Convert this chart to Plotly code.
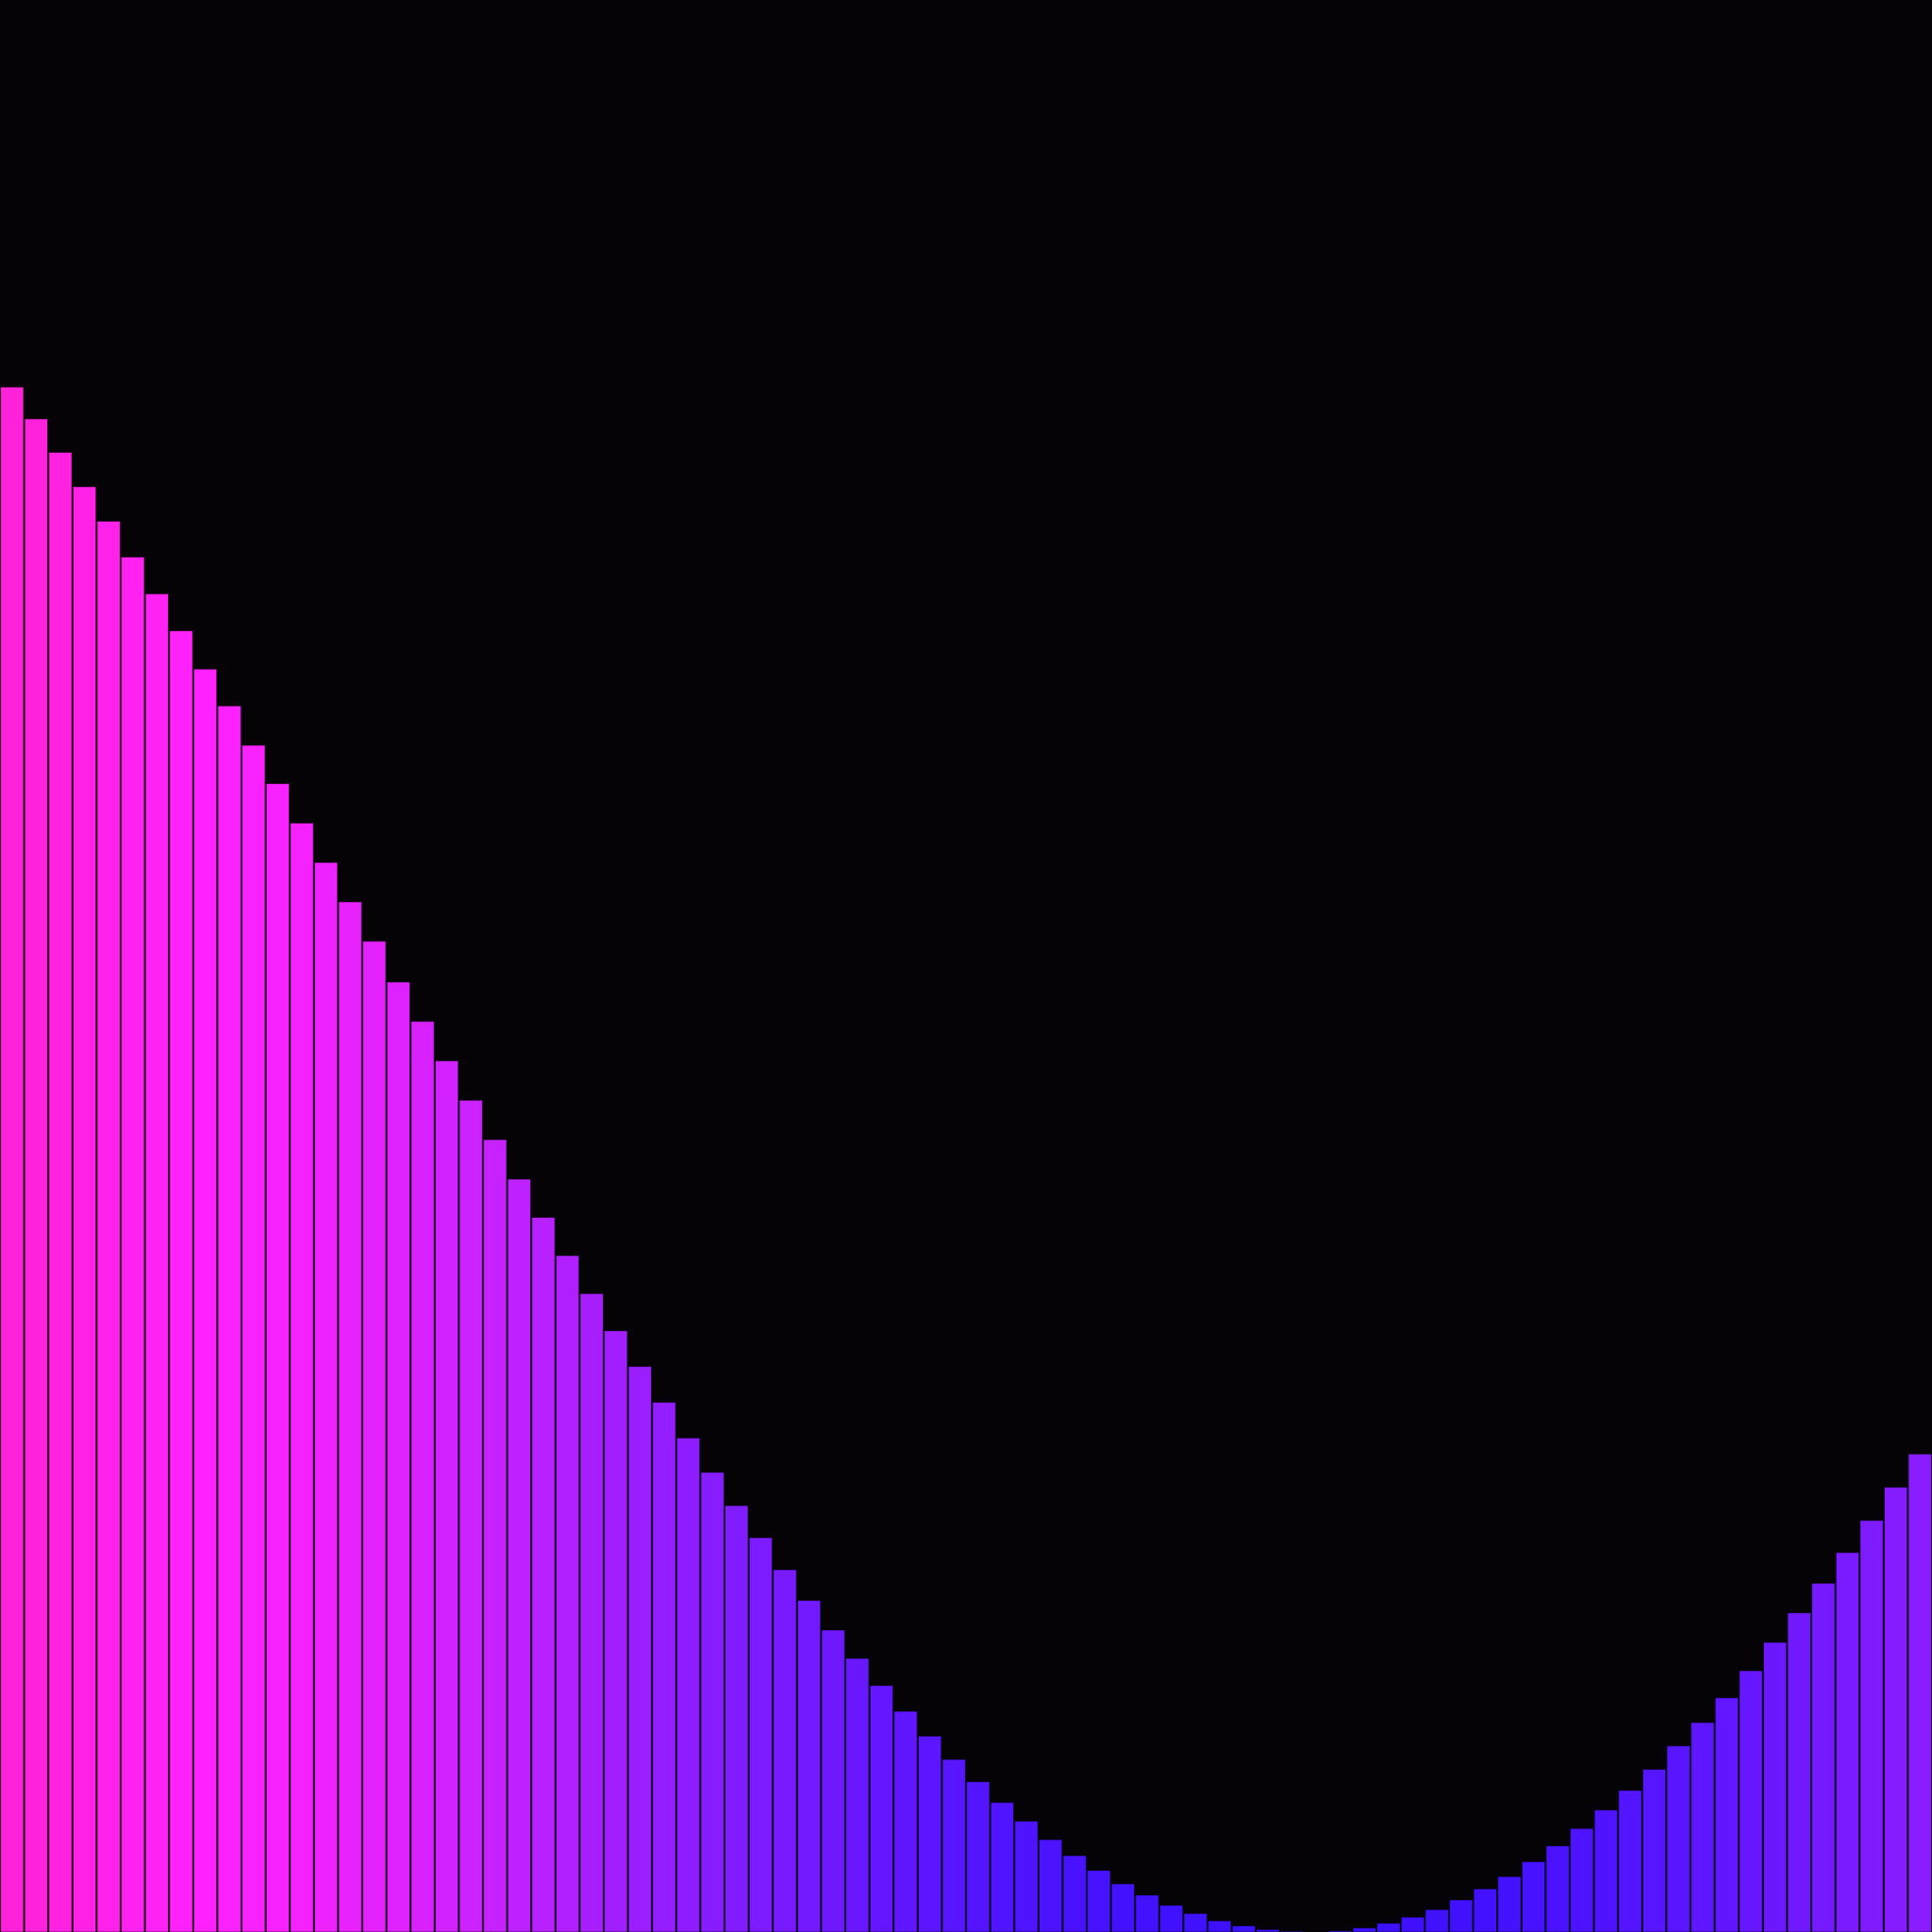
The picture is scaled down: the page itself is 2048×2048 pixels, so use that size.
import plotly.graph_objects as go

# Bar heights (percent of plot height), read left to right
values = [
    79.97, 78.32, 76.59, 74.81, 73.02, 71.17, 69.26, 67.35, 65.37, 63.46,
    61.42, 59.44, 57.40, 55.36, 53.32, 51.28, 49.17, 47.13, 45.09, 43.05,
    41.01, 38.97, 36.99, 35.01, 33.04, 31.12, 29.27, 27.42, 25.57, 23.79,
    22.07, 20.41, 18.75, 17.16, 15.63, 14.16, 12.76, 11.42, 10.14, 8.93,
    7.78, 6.70, 5.74, 4.78, 3.95, 3.19, 2.49, 1.91, 1.38, 0.96,
    0.58, 0.32, 0.13, 0.04, 0.0, 0.06, 0.21, 0.45, 0.77, 1.16,
    1.66, 2.23, 2.87, 3.64, 4.46, 5.36, 6.31, 7.33, 8.42, 9.63,
    10.84, 12.12, 13.52, 14.99, 16.52, 18.05, 19.64, 21.30, 23.02, 24.74,
]
positions = list(range(len(values)))

# colour follows bar height
colorscale = [
    [0.0, '#3c10ff'],
    [0.31, '#8a1dff'],
    [0.52, '#c822ff'],
    [0.72, '#f422ff'],
    [0.82, '#ff22ff'],
    [1.0, '#ff22d8'],
]

fig = go.Figure()

fig.add_trace(go.Bar(
    x=positions,
    y=values,
    marker=dict(
        color=values,
        colorscale=colorscale,
        cmin=0,
        cmax=max(values),
        line=dict(color='rgba(0,0,0,0.55)', width=1),
    ),
    hoverinfo='skip',
))

fig.update_layout(
    width=2048,
    height=2048,
    margin=dict(l=0, r=0, t=0, b=0),
    paper_bgcolor='#050305',
    plot_bgcolor='#050305',
    bargap=0.05,
    showlegend=False,
    xaxis=dict(visible=False, range=[-0.5, len(values) - 0.5]),
    yaxis=dict(visible=False, range=[0, 100]),
)

# drop the page margin so the figure fills the window exactly
fig.write_html(
    "out.html",
    config=dict(displayModeBar=False),
    post_script="document.body.style.margin='0';document.body.style.overflow='hidden';document.body.style.background='#050305';",
)
